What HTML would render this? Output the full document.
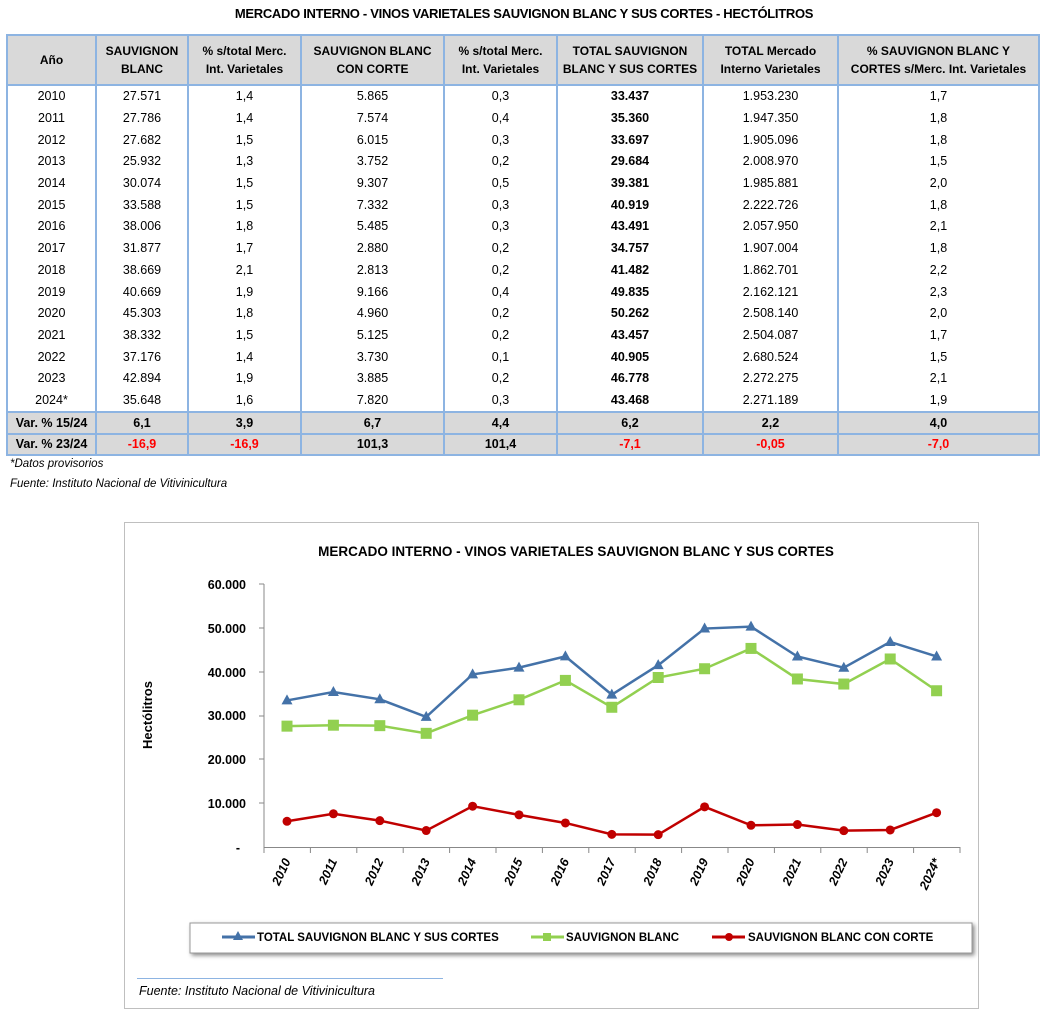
<!DOCTYPE html>
<html><head><meta charset="utf-8"><style>
body{margin:0;background:#fff;width:1048px;height:1010px;position:relative;font-family:"Liberation Sans",sans-serif;overflow:hidden}
.t{position:absolute;left:0;top:6px;width:1048px;text-align:center;font-weight:bold;font-size:13px;letter-spacing:-0.3px}
table{position:absolute;left:6px;top:34px;border-collapse:collapse;font-size:12.5px;table-layout:fixed}
td,th{border-left:2px solid #8db4e2;border-right:2px solid #8db4e2;text-align:center;padding:0;height:21.7px;line-height:21px}
th{background:#d9d9d9;font-size:12px;line-height:18px;height:48px;border-top:2px solid #8db4e2;border-bottom:2px solid #8db4e2}
tr.v td{background:#d9d9d9;font-weight:bold;border-top:2px solid #8db4e2;border-bottom:2px solid #8db4e2;height:19.5px;line-height:19px}
.r{color:#f00}
.b{font-weight:bold}
.fn{position:absolute;left:10px;font-style:italic;font-size:11.5px}
</style></head><body>
<div class="t">MERCADO INTERNO - VINOS VARIETALES SAUVIGNON BLANC Y SUS CORTES - HECTÓLITROS</div>
<table>
<colgroup><col style="width:89px"><col style="width:92px"><col style="width:113px"><col style="width:143px"><col style="width:113px"><col style="width:146px"><col style="width:135px"><col style="width:201px"></colgroup>
<tr><th>Año</th><th>SAUVIGNON<br>BLANC</th><th>% s/total Merc.<br>Int. Varietales</th><th>SAUVIGNON BLANC<br>CON CORTE</th><th>% s/total Merc.<br>Int. Varietales</th><th>TOTAL SAUVIGNON<br>BLANC Y SUS CORTES</th><th>TOTAL Mercado<br>Interno Varietales</th><th>% SAUVIGNON BLANC Y<br>CORTES s/Merc. Int. Varietales</th></tr>
<tr><td>2010</td><td>27.571</td><td>1,4</td><td>5.865</td><td>0,3</td><td class="b">33.437</td><td>1.953.230</td><td>1,7</td></tr>
<tr><td>2011</td><td>27.786</td><td>1,4</td><td>7.574</td><td>0,4</td><td class="b">35.360</td><td>1.947.350</td><td>1,8</td></tr>
<tr><td>2012</td><td>27.682</td><td>1,5</td><td>6.015</td><td>0,3</td><td class="b">33.697</td><td>1.905.096</td><td>1,8</td></tr>
<tr><td>2013</td><td>25.932</td><td>1,3</td><td>3.752</td><td>0,2</td><td class="b">29.684</td><td>2.008.970</td><td>1,5</td></tr>
<tr><td>2014</td><td>30.074</td><td>1,5</td><td>9.307</td><td>0,5</td><td class="b">39.381</td><td>1.985.881</td><td>2,0</td></tr>
<tr><td>2015</td><td>33.588</td><td>1,5</td><td>7.332</td><td>0,3</td><td class="b">40.919</td><td>2.222.726</td><td>1,8</td></tr>
<tr><td>2016</td><td>38.006</td><td>1,8</td><td>5.485</td><td>0,3</td><td class="b">43.491</td><td>2.057.950</td><td>2,1</td></tr>
<tr><td>2017</td><td>31.877</td><td>1,7</td><td>2.880</td><td>0,2</td><td class="b">34.757</td><td>1.907.004</td><td>1,8</td></tr>
<tr><td>2018</td><td>38.669</td><td>2,1</td><td>2.813</td><td>0,2</td><td class="b">41.482</td><td>1.862.701</td><td>2,2</td></tr>
<tr><td>2019</td><td>40.669</td><td>1,9</td><td>9.166</td><td>0,4</td><td class="b">49.835</td><td>2.162.121</td><td>2,3</td></tr>
<tr><td>2020</td><td>45.303</td><td>1,8</td><td>4.960</td><td>0,2</td><td class="b">50.262</td><td>2.508.140</td><td>2,0</td></tr>
<tr><td>2021</td><td>38.332</td><td>1,5</td><td>5.125</td><td>0,2</td><td class="b">43.457</td><td>2.504.087</td><td>1,7</td></tr>
<tr><td>2022</td><td>37.176</td><td>1,4</td><td>3.730</td><td>0,1</td><td class="b">40.905</td><td>2.680.524</td><td>1,5</td></tr>
<tr><td>2023</td><td>42.894</td><td>1,9</td><td>3.885</td><td>0,2</td><td class="b">46.778</td><td>2.272.275</td><td>2,1</td></tr>
<tr><td>2024*</td><td>35.648</td><td>1,6</td><td>7.820</td><td>0,3</td><td class="b">43.468</td><td>2.271.189</td><td>1,9</td></tr>
<tr class="v"><td>Var. % 15/24</td><td>6,1</td><td>3,9</td><td>6,7</td><td>4,4</td><td>6,2</td><td>2,2</td><td>4,0</td></tr>
<tr class="v"><td>Var. % 23/24</td><td class="r">-16,9</td><td class="r">-16,9</td><td>101,3</td><td>101,4</td><td class="r">-7,1</td><td class="r">-0,05</td><td class="r">-7,0</td></tr>
</table>
<div class="fn" style="top:458px">*Datos provisorios</div>
<div class="fn" style="top:478px">Fuente: Instituto Nacional de Vitivinicultura</div>

<svg style="position:absolute;left:0;top:0" width="1048" height="1010" font-family="Liberation Sans, sans-serif">
<rect x="124.5" y="522.5" width="854" height="486" fill="#fff" stroke="#bfbfbf"/>
<text x="576" y="556" text-anchor="middle" font-weight="bold" font-size="13.5">MERCADO INTERNO - VINOS VARIETALES SAUVIGNON BLANC Y SUS CORTES</text>
<g font-weight="bold" font-size="12.5" text-anchor="end">
<text x="246" y="589">60.000</text><text x="246" y="633">50.000</text><text x="246" y="677">40.000</text>
<text x="246" y="720">30.000</text><text x="246" y="764">20.000</text><text x="246" y="808">10.000</text><text x="240" y="852">-</text>
</g>
<text transform="translate(152,715) rotate(-90)" text-anchor="middle" font-weight="bold" font-size="13">Hectólitros</text>
<line x1="264" y1="584" x2="264" y2="847" stroke="#888"/>
<g stroke="#888"><line x1="259" y1="584" x2="264" y2="584"/><line x1="259" y1="628" x2="264" y2="628"/><line x1="259" y1="672" x2="264" y2="672"/><line x1="259" y1="716" x2="264" y2="716"/><line x1="259" y1="759" x2="264" y2="759"/><line x1="259" y1="803" x2="264" y2="803"/></g>
<line x1="264" y1="847.5" x2="960" y2="847.5" stroke="#888"/>
<g id="ticks" stroke="#888"></g>
<g id="xl" font-weight="bold" font-size="12.5" font-style="italic"></g>
<polyline id="p1" fill="none" stroke="#4472a8" stroke-width="2.5"/>
<polyline id="p2" fill="none" stroke="#92d050" stroke-width="2.5"/>
<polyline id="p3" fill="none" stroke="#c00000" stroke-width="2.5"/>
<g id="m"></g>
<rect x="190" y="923" width="782" height="30" fill="#fff" stroke="#999" style="filter:drop-shadow(2px 2px 2px #888)"/>
<g font-weight="bold" font-size="11.5">
<line x1="222" y1="937" x2="255" y2="937" stroke="#4472a8" stroke-width="3"/><polygon points="238,931 243,940 233,940" fill="#4472a8"/>
<text x="257" y="941">TOTAL SAUVIGNON BLANC Y SUS CORTES</text>
<line x1="531" y1="937" x2="564" y2="937" stroke="#92d050" stroke-width="3"/><rect x="543" y="933" width="8" height="8" fill="#92d050"/>
<text x="566" y="941">SAUVIGNON BLANC</text>
<line x1="712" y1="937" x2="745" y2="937" stroke="#c00000" stroke-width="3"/><circle cx="729" cy="937" r="4" fill="#c00000"/>
<text x="748" y="941">SAUVIGNON BLANC  CON CORTE</text>
</g>
<line x1="137" y1="978.5" x2="443" y2="978.5" stroke="#8db4e2"/>
<text x="139" y="995" font-style="italic" font-size="12.5">Fuente: Instituto Nacional de Vitivinicultura</text>
</svg>
<script>
var tot=[33437,35360,33697,29684,39381,40919,43491,34757,41482,49835,50262,43457,40905,46778,43468];
var sb=[27571,27786,27682,25932,30074,33588,38006,31877,38669,40669,45303,38332,37176,42894,35648];
var cc=[5865,7574,6015,3752,9307,7332,5485,2880,2813,9166,4960,5125,3730,3885,7820];
var yrs=["2010","2011","2012","2013","2014","2015","2016","2017","2018","2019","2020","2021","2022","2023","2024*"];
function X(i){return 287+i*46.4}function Y(v){return 847-v*263/60000}
function pts(a){return a.map(function(v,i){return X(i)+","+Y(v)}).join(" ")}
document.getElementById("p1").setAttribute("points",pts(tot));
document.getElementById("p2").setAttribute("points",pts(sb));
document.getElementById("p3").setAttribute("points",pts(cc));
var m=document.getElementById("m"),t=document.getElementById("ticks"),xl=document.getElementById("xl"),h="";
for(var i=0;i<15;i++){var x=X(i);
h+='<polygon points="'+x+','+(Y(tot[i])-6)+' '+(x+5.5)+','+(Y(tot[i])+4)+' '+(x-5.5)+','+(Y(tot[i])+4)+'" fill="#4472a8"/>';
h+='<rect x="'+(x-5.5)+'" y="'+(Y(sb[i])-5.5)+'" width="11" height="11" fill="#92d050"/>';
h+='<circle cx="'+x+'" cy="'+Y(cc[i])+'" r="4.5" fill="#c00000"/>';}
m.innerHTML=h;
var th="",lh="";
for(var i=0;i<=15;i++){var tx=264+i*46.4;th+='<line x1="'+tx+'" y1="847" x2="'+tx+'" y2="853"/>';}
for(var i=0;i<15;i++){var x=X(i)+4;lh+='<text transform="translate('+x+',861) rotate(-65)" text-anchor="end">'+yrs[i]+'</text>';}
t.innerHTML=th;xl.innerHTML=lh;
</script>
</body></html>
